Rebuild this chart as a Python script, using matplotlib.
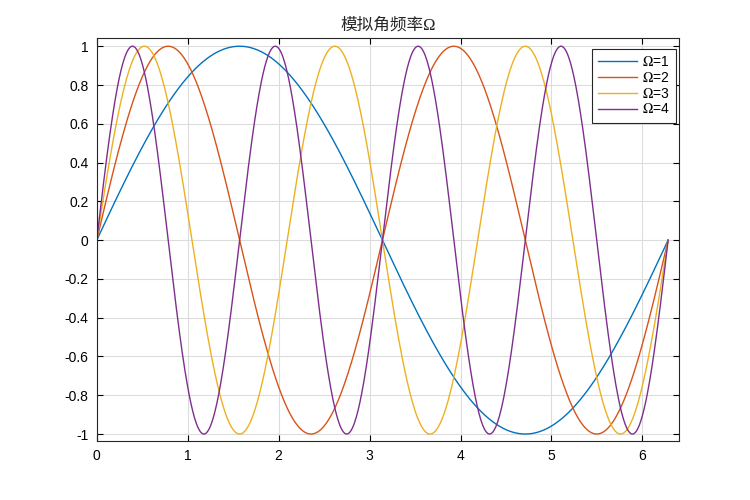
import numpy as np
import matplotlib
matplotlib.use("Agg")
import matplotlib.pyplot as plt

plt.rcParams['font.family'] = ['Liberation Sans', 'DejaVu Sans']
plt.rcParams['axes.unicode_minus'] = False
plt.rcParams['mathtext.fontset'] = 'stix'

# angular frequencies of the curves y = sin(omega * t), t in [0, 2*pi]
omegas = [1, 2, 3, 4]
labels = [r'$\Omega$=1', r'$\Omega$=2', r'$\Omega$=3', r'$\Omega$=4']
colors = ['#0072BD', '#D95319', '#EDB120', '#7E2F8E']
yticks = [-1, -0.8, -0.6, -0.4, -0.2, 0, 0.2, 0.4, 0.6, 0.8, 1]
yticklabels = ['-1', '-0.8', '-0.6', '-0.4', '-0.2', '0', '0.2', '0.4', '0.6', '0.8', '1']
t = np.linspace(0, 2 * np.pi, 1000)

fig = plt.figure(figsize=(7.5, 5), dpi=100)
ax = fig.add_axes([0.129, 0.118, 0.776, 0.807])

for w, lab, c in zip(omegas, labels, colors):
    ax.plot(t, np.sin(w * t), color=c, lw=1.0, label=lab)

ax.set_xlim(0, 6.4)
ax.set_ylim(-1.036, 1.045)
ax.set_xticks(range(0, 7))
ax.set_yticks(yticks)
ax.set_yticklabels(yticklabels)
ax.grid(True, color='#dcdcdc', lw=0.8)
ax.set_axisbelow(True)
ax.tick_params(direction='in', top=True, right=True, labelsize=10, length=4, width=0.8, pad=6)
for s in ax.spines.values():
    s.set_linewidth(0.8)
    s.set_color('#262626')

ax.set_title('模拟角频率Ω', family=['Liberation Serif', 'Noto Sans CJK SC'], fontsize=12, color='#262626')

leg = ax.legend(loc='upper right', bbox_to_anchor=(0.995, 0.972), fontsize=10,
                fancybox=False, framealpha=1, edgecolor='#262626', handlelength=2.8,
                handletextpad=0.35, borderaxespad=0.0, labelspacing=0.13, borderpad=0.45)
leg.get_frame().set_linewidth(0.8)

fig.savefig('out.png', dpi=100)
